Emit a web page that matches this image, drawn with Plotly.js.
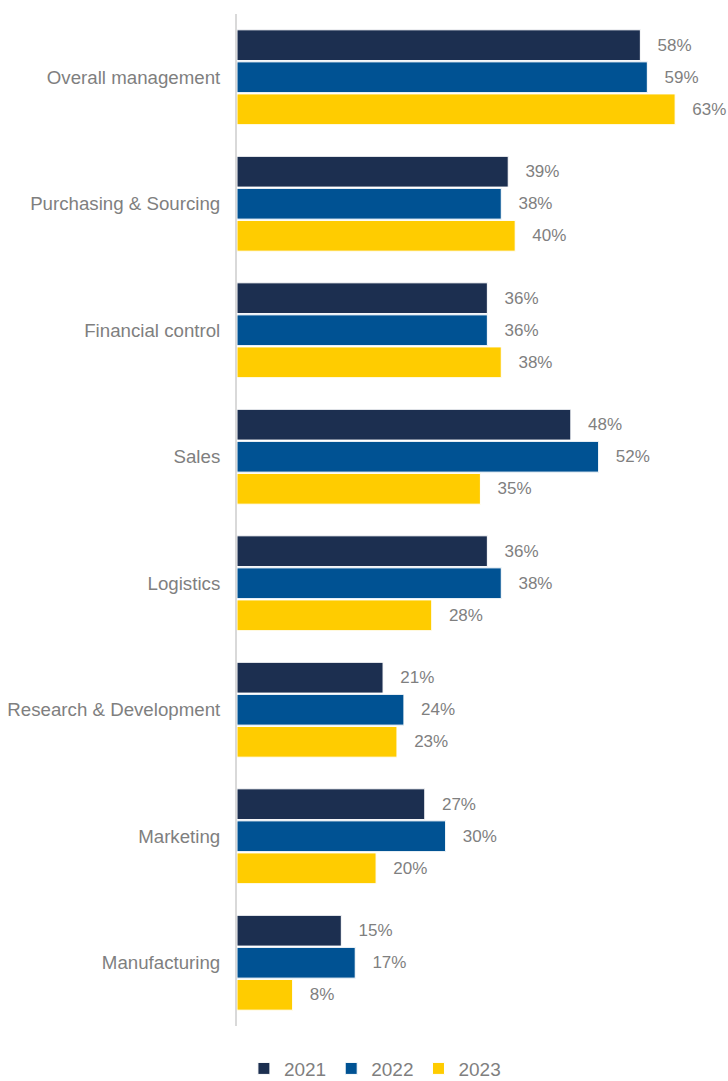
<!DOCTYPE html>
<html>
<head>
<meta charset="utf-8">
<script src="https://cdn.plot.ly/plotly-3.0.1.min.js"></script>
<style>html,body{margin:0;padding:0;background:#fff;}#chart{width:728px;height:1081px;}</style>
</head>
<body>
<div id="chart"></div>
<script>
const categories = ["Overall management","Purchasing & Sourcing","Financial control","Sales","Logistics","Research & Development","Marketing","Manufacturing"];
const years = ["2021","2022","2023"];
const values2021 = [58,39,36,48,36,21,27,15];
const values2022 = [59,38,36,52,38,24,30,17];
const values2023 = [63,40,38,35,28,23,20,8];
const colors = ["#1C2F50","#005293","#FFCC00"];

const series = [values2021, values2022, values2023];
const traces = series.map((vals, i) => ({
  type: 'bar',
  orientation: 'h',
  name: years[i],
  y: categories,
  x: vals,
  text: vals.map(v => '\u00a0\u00a0\u00a0' + v + '%'),
  textposition: 'outside',
  cliponaxis: false,
  textfont: {color: '#7F7F7F', size: 17, family: 'Liberation Sans, Arial, sans-serif'},
  marker: {color: colors[i], line: {color: '#FFFFFF', width: 1}},
  hoverinfo: 'none'
}));

const layout = {
  width: 728, height: 1081,
  margin: {l: 237, r: 0, t: 14, b: 55},
  paper_bgcolor: '#FFFFFF', plot_bgcolor: '#FFFFFF',
  font: {family: 'Liberation Sans, Arial, sans-serif', color: '#7F7F7F', size: 17},
  barmode: 'group',
  bargap: 0.24,
  bargroupgap: 0.04,
  showlegend: true,
  legend: {orientation: 'h', xref: 'container', yref: 'container', x: 0.515, xanchor: 'center', y: 0.0115, yanchor: 'middle', font: {size: 19, color: '#7F7F7F'}, itemwidth: 30, traceorder: 'normal'},
  xaxis: {range: [0, 70.6], showgrid: false, zeroline: false, showticklabels: false, showline: false, fixedrange: true},
  yaxis: {type: 'category', autorange: 'reversed', showgrid: false, zeroline: false, showline: true, linecolor: '#D9D9D9', linewidth: 2, ticks: '', ticklabelstandoff: 11, tickfont: {size: 18.7, color: '#7F7F7F'}}
};

Plotly.newPlot('chart', traces, layout, {displayModeBar: false, staticPlot: true});
</script>
</body>
</html>
